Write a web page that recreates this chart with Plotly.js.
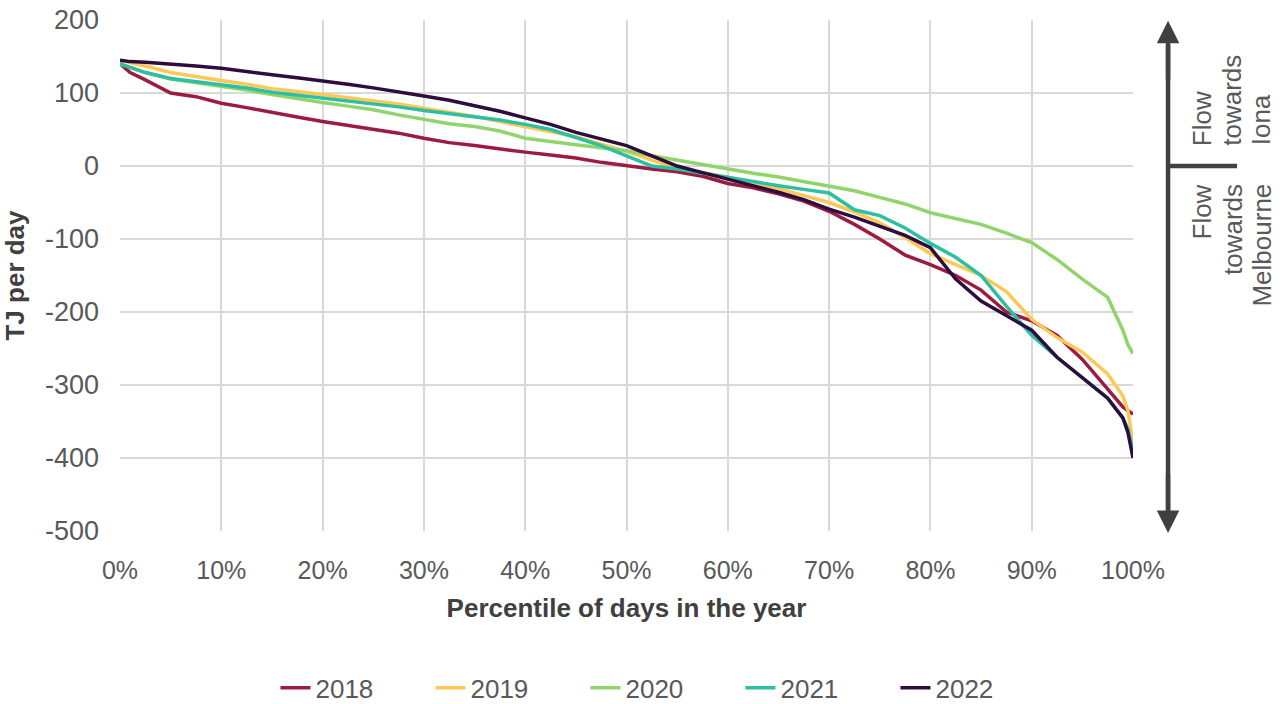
<!DOCTYPE html>
<html>
<head>
<meta charset="utf-8">
<script src="https://cdn.plot.ly/plotly-3.0.1.min.js"></script>
<style>html,body{margin:0;padding:0;background:#fff;}#chart{width:1285px;height:704px;}</style>
</head>
<body>
<div id="chart"></div>
<script>
// Percentile of days (fraction of year)
const percentiles = [0,1,2.5,5,7.5,10,12.5,15,17.5,20,22.5,25,27.5,30,32.5,35,37.5,40,42.5,45,47.5,50,52.5,55,57.5,60,62.5,65,67.5,70,72.5,75,77.5,80,82.5,85,87.5,90,92.5,95,97.5,99,99.5,100];

const years = ['2018','2019','2020','2021','2022'];

const flow2018 = [140,128,118,100,95,86,80,73,67,61,56,51,45,38,32,28,23,19,15,11,5,0,-4,-8,-14,-24,-30,-38,-48,-62,-80,-100,-122,-135,-150,-170,-200,-212,-232,-265,-305,-330,-335,-340];
const flow2019 = [145,142,137,128,122,117,112,106,102,98,94,90,85,79,74,68,61,54,48,40,30,20,8,-3,-9,-15,-22,-31,-40,-50,-63,-78,-98,-120,-135,-150,-172,-210,-235,-255,-285,-315,-335,-380];
const flow2020 = [140,135,128,119,114,110,104,98,92,87,82,77,70,64,58,54,48,38,33,29,25,21,14,8,2,-5,-10,-15,-21,-27,-34,-43,-52,-64,-72,-80,-92,-105,-128,-155,-180,-225,-245,-257];
const flow2021 = [140,135,128,120,116,112,107,101,97,94,90,86,81,76,72,68,63,57,50,39,28,14,0,-4,-10,-16,-22,-27,-32,-37,-60,-68,-85,-106,-125,-150,-192,-232,-262,-290,-318,-345,-360,-390];
const flow2022 = [145,143,142,140,137,134,129,125,121,117,112,107,102,96,90,83,75,66,57,46,37,28,14,0,-9,-18,-26,-36,-46,-59,-70,-82,-95,-112,-155,-185,-205,-225,-262,-290,-318,-345,-365,-400];

const seriesValues = [flow2018, flow2019, flow2020, flow2021, flow2022];
const colors = ['#9b1c40','#fdc855','#92d46c','#2dbfa2','#2d0c3e'];

const xTickVals = [0,10,20,30,40,50,60,70,80,90,100];
const xTickText = ['0%','10%','20%','30%','40%','50%','60%','70%','80%','90%','100%'];
const yTickVals = [200,100,0,-100,-200,-300,-400,-500];
const yTickText = ['200','100','0','-100','-200','-300','-400','-500'];

const upperLabel = ['Flow','towards','Iona'];
const lowerLabel = ['Flow','towards','Melbourne'];

const font = 'Liberation Sans, Arial, sans-serif';

const traces = years.map((yr, i) => ({
  x: percentiles.map(p => p / 100),
  y: seriesValues[i],
  name: yr,
  type: 'scatter',
  mode: 'lines',
  line: {color: colors[i], width: 3.5},
  hoverinfo: 'skip'
}));

const arrowColor = '#404040';
const lineX = [1.0681, 1.0982, 1.1264];

const annotations = [
  {xref: 'paper', yref: 'paper', x: 1.0346, y: 0.9986, ax: 0, ay: 60, axref: 'pixel', ayref: 'pixel', text: '', showarrow: true, arrowhead: 2, arrowsize: 1, arrowwidth: 4.5, arrowcolor: arrowColor, standoff: 0},
  {xref: 'paper', yref: 'paper', x: 1.0346, y: -0.0039, ax: 0, ay: -60, axref: 'pixel', ayref: 'pixel', text: '', showarrow: true, arrowhead: 2, arrowsize: 1, arrowwidth: 4.5, arrowcolor: arrowColor, standoff: 0}
];
upperLabel.forEach((t, i) => annotations.push({
  xref: 'paper', yref: 'paper', x: lineX[i], y: 0.752, xanchor: 'center', yanchor: 'bottom', textangle: -90,
  showarrow: false, text: t, borderpad: 0, font: {family: font, size: 26, color: '#595959'}
}));
lowerLabel.forEach((t, i) => annotations.push({
  xref: 'paper', yref: 'paper', x: lineX[i], y: 0.681, xanchor: 'center', yanchor: 'top', textangle: -90,
  showarrow: false, text: t, borderpad: 0, font: {family: font, size: 26, color: '#595959'}
}));

const layout = {
  width: 1285, height: 704,
  margin: {l: 120, r: 152, t: 20, b: 173, autoexpand: false},
  paper_bgcolor: '#fff', plot_bgcolor: '#fff',
  font: {family: font, size: 25, color: '#595959'},
  showlegend: true,
  xaxis: {
    range: [0, 1], automargin: false,
    tickvals: xTickVals.map(v => v / 100),
    ticktext: xTickText,
    showgrid: true, gridcolor: '#d9d9d9', gridwidth: 2,
    zeroline: false, showline: false, ticks: '',
    ticklabelstandoff: 22,
    tickfont: {family: font, size: 25, color: '#595959'},
    title: {text: 'Percentile of days in the year', font: {family: font, size: 26, color: '#404040', weight: 'bold'}, standoff: 15}
  },
  yaxis: {
    range: [-500, 200], automargin: false,
    tickvals: yTickVals,
    ticktext: yTickText,
    showgrid: true, gridcolor: '#d9d9d9', gridwidth: 2,
    zeroline: false, showline: false, ticks: '',
    ticklabelstandoff: 20,
    tickfont: {family: font, size: 27, color: '#595959'},
    title: {text: 'TJ per day', font: {family: font, size: 26, color: '#404040', weight: 'bold'}, standoff: 14}
  },
  legend: {
    orientation: 'h', x: 0.536, xanchor: 'center', y: -0.307, yanchor: 'middle',
    font: {family: font, size: 26, color: '#595959'},
    entrywidth: 110, entrywidthmode: 'pixels',
    bgcolor: 'rgba(0,0,0,0)'
  },
  shapes: [
    {type: 'line', xref: 'paper', yref: 'paper', x0: 1.0346, x1: 1.0346, y0: 0.95, y1: 0.04, line: {color: arrowColor, width: 4.5}},
    {type: 'line', xref: 'paper', yref: 'y', x0: 1.0346, x1: 1.1027, y0: 0, y1: 0, line: {color: arrowColor, width: 4.5}}
  ],
  annotations: annotations
};

Plotly.newPlot('chart', traces, layout, {displayModeBar: false, staticPlot: true});
</script>
</body>
</html>
